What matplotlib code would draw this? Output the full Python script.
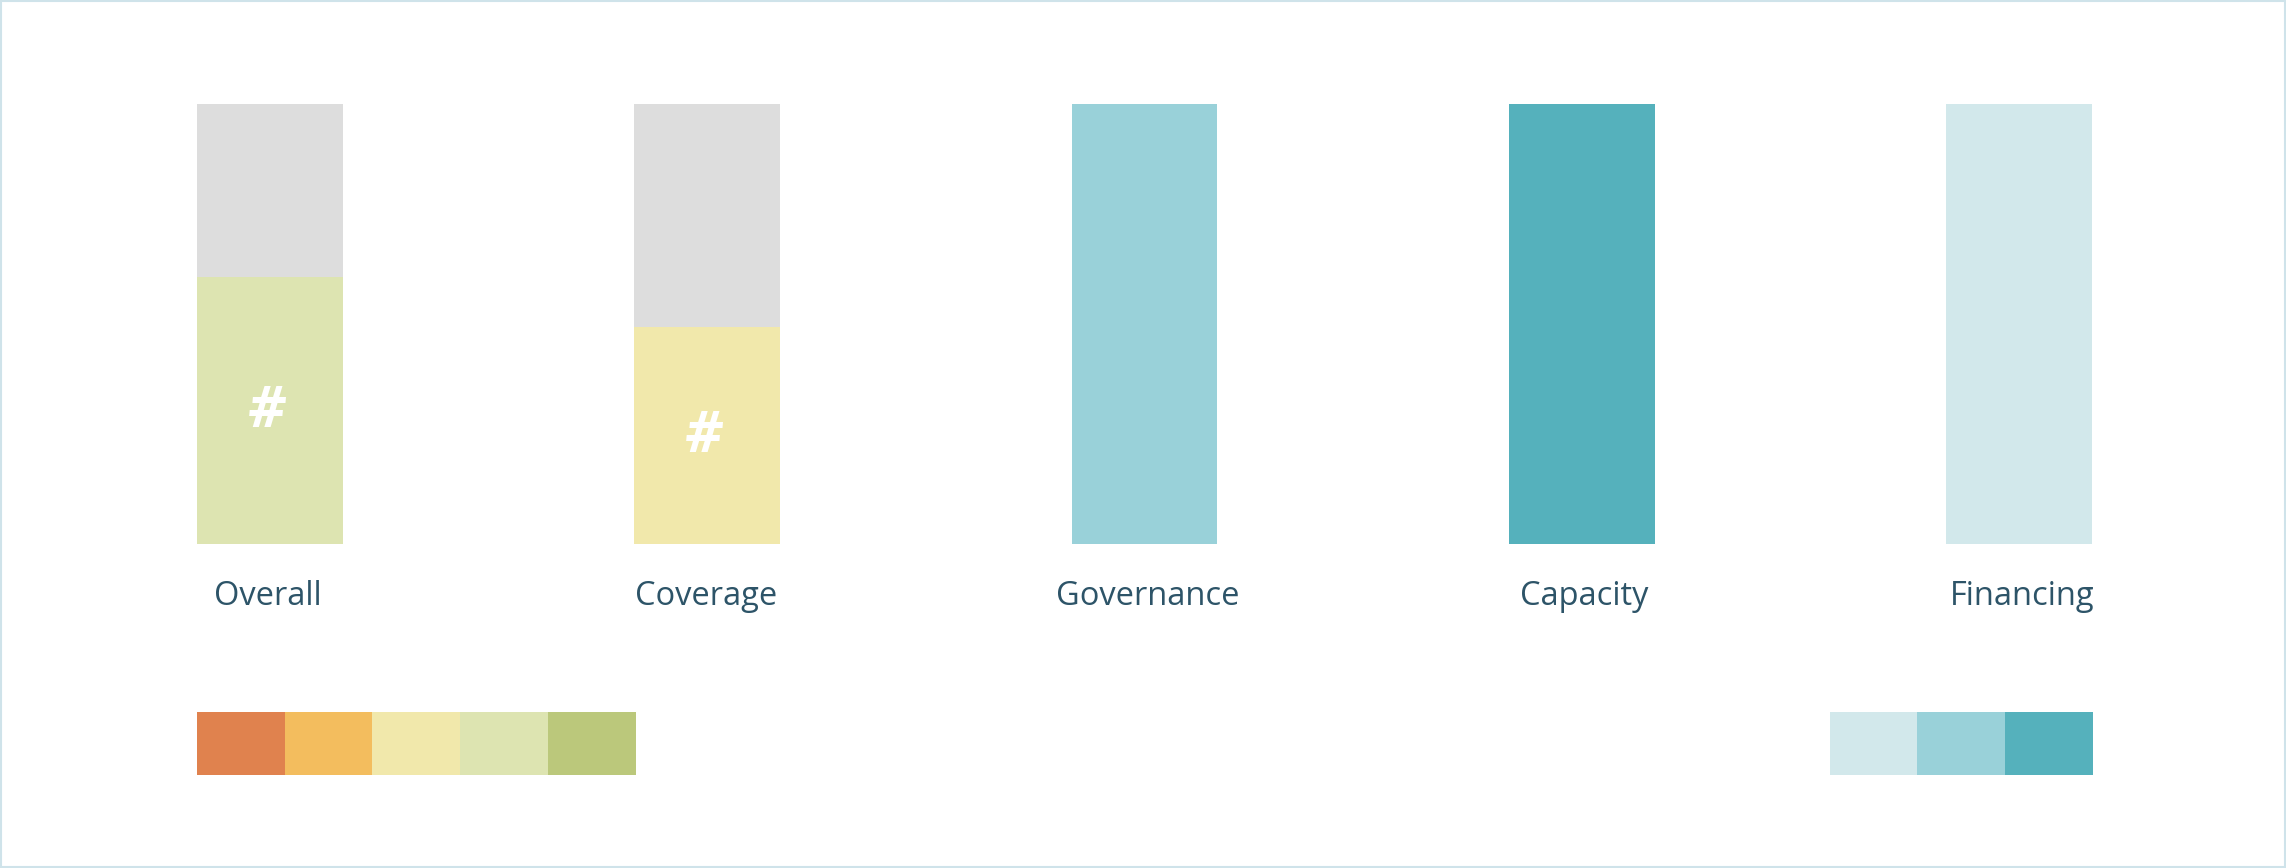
import matplotlib.pyplot as plt
from matplotlib.patches import Rectangle

plt.rcParams['font.family'] = ['Open Sans', 'DejaVu Sans']

# data
categories = ['Overall', 'Coverage', 'Governance', 'Capacity', 'Financing']
fill_share = [0.606, 0.493, 1.0, 1.0, 1.0]
bar_colors = ['#dde4b1', '#f1e8ab', '#99d1d9', '#55b1bc', '#d2e8eb']
show_hash = [True, True, False, False, False]
scale_left = ['#e0824e', '#f3bd5e', '#f1e8ab', '#dde4b1', '#bbc87b']
scale_right = ['#d2e8eb', '#99d1d9', '#55b1bc']

W, H = 1568, 595
fig = plt.figure(figsize=(22.86, 8.68), dpi=100)
ax = fig.add_axes([0, 0, 1, 1])
ax.set_xlim(0, W)
ax.set_ylim(H, 0)
ax.axis('off')

top, base, bw = 71, 373, 100
xs = [185 + 300 * i for i in range(len(categories))]
full = base - top

ax.bar(xs, full, width=bw, bottom=top, color='#dddddd')
heights = [full * f for f in fill_share]
ax.bar(xs, heights, width=bw, bottom=[base - h for h in heights], color=bar_colors)

for i, (x, h, name, hs) in enumerate(zip(xs, heights, categories, show_hash)):
    ax.text(x + (2 if i > 1 else -1), 409, name, ha='center', va='center',
            fontsize=23.5, color='#2d5468')
    if hs:
        ax.text(x - 2, base - h / 2 + 1, '#', ha='center', va='center', fontsize=42,
                fontweight='bold', color='white', style='italic')

sw = 60.2
for i, c in enumerate(scale_left):
    ax.add_patch(Rectangle((135 + i * sw, 488), sw, 43, color=c, lw=0))
for i, c in enumerate(scale_right):
    ax.add_patch(Rectangle((1255 + i * sw, 488), sw, 43, color=c, lw=0))

ax.add_patch(Rectangle((0.5, 0.5), W - 1, H - 1, fill=False, ec='#cfe3ea', lw=1.5))

fig.savefig('out.png', dpi=100)
